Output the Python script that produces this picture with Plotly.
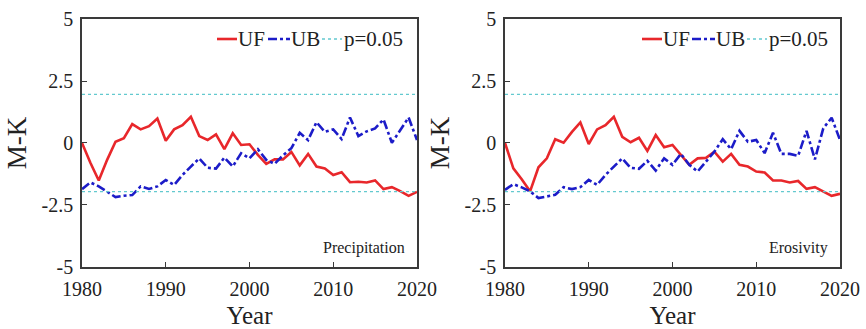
import plotly.graph_objects as go

years = list(range(1980, 2021))

# Mann-Kendall forward (UF) and backward (UB) statistics, precipitation
precip_uf = [0.00, -0.80, -1.51, -0.68, 0.05, 0.19, 0.76, 0.55, 0.68, 0.99,
             0.09, 0.55, 0.72, 1.06, 0.28, 0.12, 0.35, -0.25, 0.39, -0.08,
             -0.05, -0.48, -0.84, -0.66, -0.66, -0.36, -0.90, -0.44, -0.95, -1.03,
             -1.29, -1.18, -1.58, -1.56, -1.59, -1.51, -1.86, -1.78, -1.94, -2.13,
             -1.97]
precip_ub = [-1.86, -1.59, -1.75, -1.95, -2.18, -2.13, -2.10, -1.75, -1.85, -1.75,
             -1.49, -1.69, -1.29, -0.95, -0.62, -1.00, -1.03, -0.59, -0.95, -0.41,
             -0.62, -0.25, -0.68, -0.84, -0.50, -0.21, 0.41, 0.12, 0.84, 0.45,
             0.55, 0.16, 1.03, 0.28, 0.47, 0.59, 0.95, 0.01, 0.52, 1.03,
             0.12]

# Mann-Kendall forward (UF) and backward (UB) statistics, erosivity
eros_uf = [0.00, -1.02, -1.46, -1.95, -0.98, -0.62, 0.15, 0.01, 0.45, 0.83,
           -0.04, 0.55, 0.72, 1.06, 0.25, 0.03, 0.21, -0.32, 0.32, -0.17,
           -0.08, -0.50, -0.88, -0.62, -0.60, -0.35, -0.75, -0.44, -0.88, -0.95,
           -1.15, -1.19, -1.51, -1.51, -1.59, -1.53, -1.85, -1.78, -1.95, -2.13,
           -2.05]
eros_ub = [-1.89, -1.66, -1.79, -1.95, -2.22, -2.15, -2.09, -1.78, -1.86, -1.78,
           -1.49, -1.69, -1.29, -0.95, -0.62, -1.00, -1.04, -0.72, -1.11, -0.62,
           -0.88, -0.44, -0.88, -1.15, -0.75, -0.35, 0.15, -0.25, 0.49, 0.05,
           0.12, -0.41, 0.41, -0.44, -0.44, -0.52, 0.49, -0.66, 0.59, 1.02,
           0.12]

# critical value at the 0.05 significance level
crit = 1.96
crit_years = [1980, 2020]

panel_names = ["Precipitation", "Erosivity"]
legend_names = ["UF", "UB", "p=0.05"]
x_ticks = [1980, 1990, 2000, 2010, 2020]
y_ticks = [5, 2.5, 0, -2.5, -5]
y_tick_text = ["5", "2.5", "0", "-2.5", "-5"]

RED = "#e8272b"
BLUE = "#1c1cc8"
CYAN = "#63c9cf"
FRAME = "#3a3a3a"
TEXT = "#222222"
FONT = "Liberation Serif"
W, H = 866, 329

styles = [dict(color=RED, width=2.6),
          dict(color=BLUE, width=2.6, dash="dashdot"),
          dict(color=CYAN, width=1.4, dash="dot")]

fig = go.Figure()

series = [(precip_uf, precip_ub), (eros_uf, eros_ub)]
for i, (uf, ub) in enumerate(series):
    xa = "x" if i == 0 else "x2"
    ya = "y" if i == 0 else "y2"
    fig.add_trace(go.Scatter(x=years, y=uf, mode="lines", name="UF",
                             line=styles[0], xaxis=xa, yaxis=ya))
    fig.add_trace(go.Scatter(x=years, y=ub, mode="lines", name="UB",
                             line=styles[1], xaxis=xa, yaxis=ya))
    for c in (crit, -crit):
        fig.add_trace(go.Scatter(x=crit_years, y=[c, c], mode="lines",
                                 name="p=0.05", line=styles[2],
                                 xaxis=xa, yaxis=ya))

x_domains = [[0.0947, 0.4815], [0.5831, 0.9700]]
y_domain = [0.1885, 0.9422]

axis_common = dict(
    showgrid=False, zeroline=False, showline=True, linecolor=FRAME,
    linewidth=1.5, mirror=True, ticks="inside", ticklen=5, tickwidth=1.2,
    tickcolor=FRAME, automargin=False,
    tickfont=dict(family=FONT, size=20, color=TEXT),
)

for i in range(2):
    sfx = "" if i == 0 else str(i + 1)
    fig.update_layout(**{
        f"xaxis{sfx}": dict(axis_common, domain=x_domains[i], range=[1980, 2020],
                            tickvals=x_ticks, anchor=f"y{sfx}",
                            ticklabelstandoff=3,
                            title=dict(text="Year", standoff=13,
                                       font=dict(family=FONT, size=25, color=TEXT))),
        f"yaxis{sfx}": dict(axis_common, domain=y_domain, range=[-5, 5],
                            tickvals=y_ticks, ticktext=y_tick_text,
                            anchor=f"x{sfx}", ticklabelstandoff=3,
                            title=dict(text="M-K", standoff=7,
                                       font=dict(family=FONT, size=27, color=TEXT))),
    })

# Compact in-panel key: sample line followed by its label (pixel positions)
key_layout = [
    # (line start, line end, label left) for UF, UB, p=0.05
    [(217, 237, 238), (268, 290, 291), (322, 342, 344)],
    [(642, 662, 663), (692, 715, 716), (747, 767, 769)],
]
key_y = 1 - 39 / H
for panel in key_layout:
    for (x0, x1, xt), style, label in zip(panel, styles, legend_names):
        fig.add_shape(type="line", xref="paper", yref="paper",
                      x0=x0 / W, x1=x1 / W, y0=key_y, y1=key_y, line=style)
        fig.add_annotation(text=label, xref="paper", yref="paper",
                           x=xt / W, y=key_y, xanchor="left", yanchor="middle",
                           showarrow=False, xshift=-2,
                           font=dict(family=FONT, size=21, color=TEXT))

for i, name in enumerate(panel_names):
    fig.add_annotation(
        text=name, xref="paper", yref="paper",
        x=x_domains[i][1] - 0.012, y=0.245, xanchor="right", yanchor="middle",
        showarrow=False, font=dict(family=FONT, size=16, color=TEXT),
    )

fig.update_layout(
    width=W, height=H, showlegend=False,
    margin=dict(l=0, r=0, t=0, b=0),
    paper_bgcolor="white", plot_bgcolor="white",
)

fig.write_html("out.html")
